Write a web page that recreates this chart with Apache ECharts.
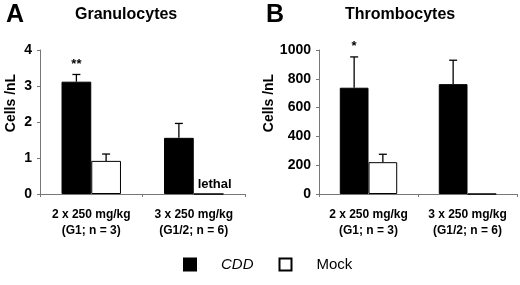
<!DOCTYPE html>
<html lang="en" style="height: 100%">
<head>
<meta charset="utf-8">
<title>Granulocytes and Thrombocytes</title>
</head>
<body style="height: 100%; margin: 0; background: #fff">
<div id="container" style="width: 520px; height: 285px"></div>
<script type="text/javascript" src="https://cdn.jsdelivr.net/npm/echarts/dist/echarts.min.js"></script>
<script type="text/javascript">
var categories = ['2 x 250 mg/kg\n(G1; n = 3)', '3 x 250 mg/kg\n(G1/2; n = 6)'];

// panel A: granulocytes
var granCDD = [3.12, 1.56];
var granCDDErr = [0.2, 0.4];
var granMock = [0.92, 0];
var granMockErr = [0.19, 0];
var granStars = ['**', ''];

// panel B: thrombocytes
var thrCDD = [738, 763];
var thrCDDErr = [214, 166];
var thrMock = [221, 0];
var thrMockErr = [55, 0];
var thrStars = ['*', ''];

var dom = document.getElementById('container');
var myChart = echarts.init(dom);
var font = 'Liberation Sans, Arial, sans-serif';
var BAR_FRAC = 0.29;

function errorSeries(idx, vals, errs, side, stars) {
    return {
        type: 'custom',
        xAxisIndex: idx,
        yAxisIndex: idx,
        silent: true,
        z: 5,
        data: vals.map(function (v, i) { return [i, v, errs[i], stars ? stars[i] : '']; }),
        renderItem: function (params, api) {
            var cat = api.value(0);
            var v = api.value(1);
            var e = api.value(2);
            var band = api.size([1, 0])[0];
            var bw = band * BAR_FRAC;
            var base = api.coord([cat, v]);
            var top = api.coord([cat, v + e]);
            var x = base[0] + side * bw / 2;
            var children = [];
            if (e > 0) {
                children.push({ type: 'line', shape: { x1: x, y1: base[1], x2: x, y2: top[1] }, style: { stroke: '#000', lineWidth: 1.3 } });
                children.push({ type: 'line', shape: { x1: x - 4, y1: top[1], x2: x + 4, y2: top[1] }, style: { stroke: '#000', lineWidth: 1.3 } });
            }
            var star = api.value(3);
            if (star) {
                children.push({ type: 'text', x: x, y: top[1] - 4, style: { text: star, textAlign: 'center', textVerticalAlign: 'bottom', font: 'bold 13px ' + font, fill: '#000' } });
            }
            return { type: 'group', children: children };
        }
    };
}

function xAxis(idx) {
    return {
        type: 'category',
        gridIndex: idx,
        data: categories,
        axisLine: { lineStyle: { color: '#777', width: 1 } },
        axisTick: { show: true, length: 3, lineStyle: { color: '#777' } },
        axisLabel: { interval: 0, hideOverlap: false, color: '#000', fontFamily: font, fontWeight: 'bold', fontSize: 12, lineHeight: 16, margin: 13 }
    };
}

function yAxis(idx, max, interval) {
    return {
        type: 'value',
        gridIndex: idx,
        min: 0,
        max: max,
        interval: interval,
        name: 'Cells /nL',
        nameLocation: 'middle',
        nameRotate: 90,
        nameGap: idx === 0 ? 22 : 35,
        nameTextStyle: { color: '#000', fontFamily: font, fontWeight: 'bold', fontSize: 14, padding: [0, 0, 0, 38] },
        splitLine: { show: false },
        axisLine: { show: true, lineStyle: { color: '#777', width: 1 } },
        axisTick: { show: true, length: 3, lineStyle: { color: '#777' } },
        axisLabel: { color: '#000', fontFamily: font, fontWeight: 'bold', fontSize: 14, margin: 8, formatter: function (v) { return String(v); } }
    };
}

function barSeries(idx, name, vals, fill, label) {
    return {
        name: name,
        type: 'bar',
        xAxisIndex: idx,
        yAxisIndex: idx,
        barWidth: (BAR_FRAC * 100) + '%',
        barGap: '0%',
        itemStyle: { color: fill, borderColor: '#000', borderWidth: 1 },
        data: vals.map(function (v, i) {
            var d = { value: v };
            if (label && label[i]) {
                d.label = { show: true, position: 'top', offset: [6, 0], formatter: label[i], color: '#000', fontFamily: font, fontWeight: 'bold', fontSize: 13, distance: 3 };
            }
            return d;
        })
    };
}

var option = {
    animation: false,
    title: [
        { text: 'A', left: 1, top: -2, textStyle: { fontFamily: font, fontWeight: 'bold', fontSize: 25, color: '#000' } },
        { text: 'Granulocytes', left: 70, top: 2, textStyle: { fontFamily: font, fontWeight: 'bold', fontSize: 16, color: '#000' } },
        { text: 'B', left: 261, top: -2, textStyle: { fontFamily: font, fontWeight: 'bold', fontSize: 25, color: '#000' } },
        { text: 'Thrombocytes', left: 340, top: 2, textStyle: { fontFamily: font, fontWeight: 'bold', fontSize: 16, color: '#000' } }
    ],
    legend: {
        bottom: 8,
        left: 178,
        icon: 'rect',
        itemWidth: 12,
        itemHeight: 12,
        itemGap: 25,
        textStyle: { fontFamily: font, fontSize: 15, color: '#000', padding: [0, 0, 0, 20] },
        data: [
            { name: 'CDD', textStyle: { fontStyle: 'italic' } },
            { name: 'Mock' }
        ]
    },
    grid: [
        { left: 40, right: 275, top: 50, bottom: 91 },
        { left: 319, right: 3, top: 50, bottom: 91 }
    ],
    xAxis: [xAxis(0), xAxis(1)],
    yAxis: [yAxis(0, 4, 1), yAxis(1, 1000, 200)],
    series: [
        barSeries(0, 'CDD', granCDD, '#000'),
        barSeries(0, 'Mock', granMock, '#fff', ['', 'lethal']),
        barSeries(1, 'CDD', thrCDD, '#000'),
        barSeries(1, 'Mock', thrMock, '#fff'),
        errorSeries(0, granCDD, granCDDErr, -1, granStars),
        errorSeries(0, granMock, granMockErr, 1),
        errorSeries(1, thrCDD, thrCDDErr, -1, thrStars),
        errorSeries(1, thrMock, thrMockErr, 1)
    ]
};

myChart.setOption(option);
window.addEventListener('resize', myChart.resize);
</script>
</body>
</html>
